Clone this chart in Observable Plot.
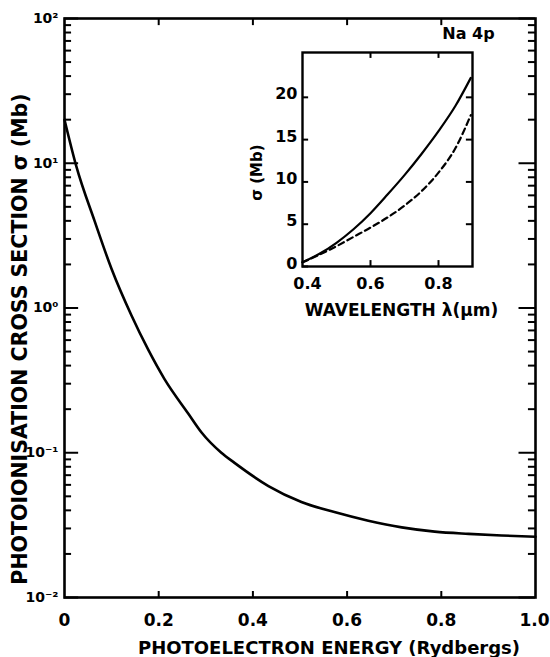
<!DOCTYPE html>
<html>
<head>
<meta charset="utf-8">
<script src="https://cdn.jsdelivr.net/npm/d3@7"></script>
<script src="https://cdn.jsdelivr.net/npm/@observablehq/plot@0.6"></script>
<style>
  html, body { margin: 0; padding: 0; background: white; }
  #wrap { position: relative; width: 550px; height: 657px; overflow: hidden; }
  #inset { position: absolute; left: 240px; top: 40px; }
  svg text { font-family: "DejaVu Sans", sans-serif; font-weight: bold; }
</style>
</head>
<body>
<div id="wrap"><div id="main"></div><div id="inset"></div></div>
<script>
// ---- Main chart data: photoionisation cross section (Mb) vs photoelectron energy (Ry)
const energy = [0, 0.025, 0.064, 0.100, 0.142, 0.178, 0.212, 0.263, 0.291, 0.333, 0.361, 0.433, 0.503, 0.573, 0.645, 0.716, 0.786, 0.858, 0.928, 1.0];
const sigma  = [20, 9.55, 3.98, 1.86, 0.891, 0.513, 0.324, 0.186, 0.138, 0.100, 0.0851, 0.0589, 0.0457, 0.0389, 0.0339, 0.0305, 0.0285, 0.0275, 0.0268, 0.0263];

const xTicks = [0, 0.2, 0.4, 0.6, 0.8, 1.0];
const xTickLabels = ["0", "0.2", "0.4", "0.6", "0.8", "1.0"];
const yMajor = [0.01, 0.1, 1, 10, 100];
const yMajorLabels = ["10\u207B\u00B2", "10\u207B\u00B9", "10\u2070", "10\u00B9", "10\u00B2"];
const yMinor = [2,3,4,5,6,7,8,9].flatMap(m => [0.01, 0.1, 1, 10].map(d => m * d));

const xTitle = "PHOTOELECTRON ENERGY (Rydbergs)";
const yTitle = "PHOTOIONISATION CROSS SECTION \u03C3 (Mb)";
const insetTag = "Na 4p";

// ---- Inset data: cross section (Mb) vs wavelength (um)
const lambda      = [0.40, 0.45, 0.50, 0.55, 0.60, 0.65, 0.70, 0.75, 0.80, 0.85, 0.895];
const sigmaSolid  = [0.5, 1.5, 2.8, 4.4, 6.3, 8.5, 10.8, 13.3, 16.0, 19.0, 22.3];
const sigmaDashed = [0.5, 1.4, 2.4, 3.5, 4.6, 5.8, 7.2, 8.9, 11.1, 14.0, 17.9];
const insetYTicks = [0, 5, 10, 15, 20];
const insetXTicks = [0.4, 0.6, 0.8];
const insetXTickLabels = ["0.4", "0.6", "0.8"];
const insetXTitle = "WAVELENGTH \u03BB(\u03BCm)";
const insetYTitle = "\u03C3 (Mb)";

const mainData = energy.map((e, i) => ({e, s: sigma[i]}));
const bold = {fontWeight: "bold", fill: "black"};

const main = Plot.plot({
  width: 550, height: 657,
  marginLeft: 64, marginRight: 15, marginTop: 18, marginBottom: 60,
  style: {background: "white", fontFamily: "DejaVu Sans", color: "black"},
  x: {domain: [0, 1], axis: null},
  y: {type: "log", domain: [0.01, 100], axis: null},
  marks: [
    Plot.frame({stroke: "black", strokeWidth: 2.6}),
    // left ticks (inward)
    Plot.ruleY(yMinor, {y: d => d, x1: 0, x2: 0.015, stroke: "black", strokeWidth: 2}),
    Plot.ruleY(yMajor, {y: d => d, x1: 0, x2: 0.03, stroke: "black", strokeWidth: 2}),
    // right ticks (inward)
    Plot.ruleY(yMinor, {y: d => d, x1: 0.985, x2: 1, stroke: "black", strokeWidth: 2}),
    Plot.ruleY(yMajor, {y: d => d, x1: 0.965, x2: 1, stroke: "black", strokeWidth: 2}),
    // bottom & top ticks
    Plot.ruleX(xTicks.slice(1, 5), {x: d => d, y1: 0.01, y2: 0.011, stroke: "black", strokeWidth: 2}),
    Plot.ruleX(xTicks.slice(1, 5), {x: d => d, y1: 100 / 1.12, y2: 100, stroke: "black", strokeWidth: 2}),
    // curve
    Plot.line(mainData, {x: "e", y: "s", curve: "monotone-x", stroke: "black", strokeWidth: 2.6}),
    // tick labels
    Plot.text(xTicks.slice(0, 5), {x: d => d, y: 0.01, text: (d, i) => xTickLabels[i], dy: 23, fontSize: 17, ...bold}),
    Plot.text(xTicks.slice(5), {x: d => d, y: 0.01, text: () => xTickLabels[5], dy: 23, dx: 14, textAnchor: "end", fontSize: 17, ...bold}),
    Plot.text(yMajor, {x: 0, y: d => d, text: (d, i) => yMajorLabels[i], dx: -6, textAnchor: "end", fontSize: 14, ...bold}),
    // titles
    Plot.text([xTitle], {frameAnchor: "bottom", textAnchor: "middle", lineAnchor: "middle", dx: 29, dy: 51, fontSize: 18, ...bold}),
    Plot.text([yTitle], {frameAnchor: "left", textAnchor: "middle", lineAnchor: "middle", rotate: -90, dx: -44, dy: 31, fontSize: 20.5, ...bold}),
    Plot.text([insetTag], {frameAnchor: "top-right", textAnchor: "middle", lineAnchor: "middle", dx: -67, dy: 15, fontSize: 16, ...bold})
  ]
});
document.getElementById("main").appendChild(main);

const inset = Plot.plot({
  width: 270, height: 290,
  marginLeft: 62, marginRight: 38, marginTop: 12, marginBottom: 64,
  style: {background: "transparent", fontFamily: "DejaVu Sans", color: "black"},
  x: {domain: [0.4, 0.9], axis: null},
  y: {domain: [0, 25.3], axis: null},
  marks: [
    Plot.frame({stroke: "black", strokeWidth: 2.4}),
    Plot.ruleY(insetYTicks, {y: d => d, x1: 0.4, x2: 0.418, stroke: "black", strokeWidth: 2}),
    Plot.ruleY(insetYTicks.slice(1), {y: d => d, x1: 0.882, x2: 0.9, stroke: "black", strokeWidth: 2}),
    Plot.ruleX(insetXTicks.slice(1), {x: d => d, y1: 0, y2: 0.7, stroke: "black", strokeWidth: 2}),
    Plot.ruleX(insetXTicks.slice(1), {x: d => d, y1: 24.6, y2: 25.3, stroke: "black", strokeWidth: 2}),
    Plot.line(lambda.map((l, i) => ({l, s: sigmaSolid[i]})), {x: "l", y: "s", curve: "monotone-x", stroke: "black", strokeWidth: 2.2}),
    Plot.line(lambda.map((l, i) => ({l, s: sigmaDashed[i]})), {x: "l", y: "s", curve: "monotone-x", stroke: "black", strokeWidth: 2.2, strokeDasharray: "6,4"}),
    Plot.text(insetYTicks, {x: 0.4, y: d => d, text: d => String(d), dx: -5, dy: -3, textAnchor: "end", fontSize: 16, ...bold}),
    Plot.text(insetXTicks.slice(0, 1), {x: d => d, y: 0, text: () => insetXTickLabels[0], dx: 5, dy: 17, fontSize: 16, ...bold}),
    Plot.text(insetXTicks.slice(1), {x: d => d, y: 0, text: (d, i) => insetXTickLabels[i + 1], dy: 17, fontSize: 16, ...bold}),
    Plot.text([insetXTitle], {frameAnchor: "bottom", textAnchor: "middle", lineAnchor: "middle", dx: 14, dy: 44, fontSize: 17, ...bold}),
    Plot.text([insetYTitle], {frameAnchor: "left", textAnchor: "middle", lineAnchor: "middle", rotate: -90, dx: -45, dy: 13, fontSize: 15, ...bold})
  ]
});
document.getElementById("inset").appendChild(inset);
</script>
</body>
</html>
